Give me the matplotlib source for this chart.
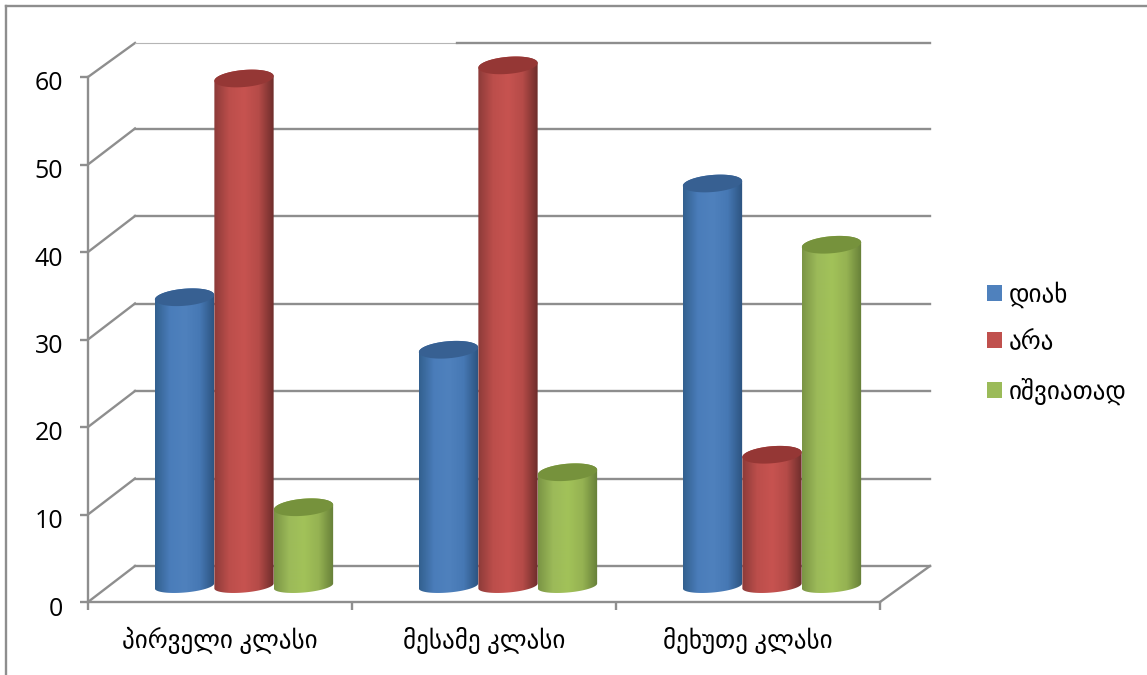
import matplotlib.pyplot as plt
import numpy as np
from matplotlib.colors import LinearSegmentedColormap
from matplotlib.lines import Line2D
from matplotlib.patches import Patch, Polygon
from matplotlib.transforms import ScaledTranslation

plt.rcParams['font.family'] = ['Open Sans', 'DejaVu Sans']

# Dados
klasebi = ['პირველი კლასი', 'მესამე კლასი', 'მეხუთე კლასი']
seriebi = ['დიახ', 'არა', 'იშვიათად']
diakh = [33, 27, 46]
ara = [58, 59.5, 15]
ishviatad = [9, 13, 39]
yticks = [0, 10, 20, 30, 40, 50, 60]

# side dark, centre, other side dark, then top cap and legend colour
ferebi = [
    (['#33608f', '#4a7dba', '#4f81bd', '#4678b4', '#2c537f'], '#376092', '#4f81bd'),
    (['#8d3b39', '#bc4e4b', '#c75350', '#b54b48', '#6e2d2b'], '#953735', '#c0504d'),
    (['#7b9545', '#9cba59', '#a2c259', '#95b252', '#667f38'], '#76923c', '#9bbb59'),
]

W, H = 1147, 675
AX_L, AX_R, AX_T, AX_B = 88, 880, 77, 602
fig = plt.figure(figsize=(W / 100, H / 100), dpi=100)
ax = fig.add_axes([AX_L / W, 1 - AX_B / H, (AX_R - AX_L) / W, (AX_B - AX_T) / H])

px_x = (AX_R - AX_L) / len(klasebi)  # pixels per category
px_y = (AX_B - AX_T) / 60  # pixels per unit
gris = '#8e8e8e'

# depth of the fake 3D box, in data units
dx = 47 / px_x
dy = 36 / px_y
dy_topo = 34 / px_y  # top line sits a bit lower in the picture

# walls and floor
for v in yticks:
    d = dy_topo if v == 60 else dy
    ax.plot([0, dx], [v, v + d], color=gris, lw=1.7, zorder=1, clip_on=False)
    if v < 60:
        ax.plot([dx, 3 + 50 / px_x], [v + d, v + d], color=gris, lw=1.7, zorder=1, clip_on=False)
# top line is thin and pale on the left part
ax.plot([dx, 369 / px_x], [60 + dy_topo, 60 + dy_topo], color='#b5b5b5', lw=0.8, zorder=1, clip_on=False)
ax.plot([369 / px_x, 3 + 50 / px_x], [60 + dy_topo, 60 + dy_topo], color=gris, lw=1.7, zorder=1, clip_on=False)
ax.plot([3, 3 + 50 / px_x], [0, dy], color=gris, lw=1.7, zorder=1, clip_on=False)


def elipse(cx, base, a, b, t):
    # tilted ellipse, computed in pixels and returned in data units
    tilt = np.radians(5)
    ex = a * np.cos(t) * np.cos(tilt) - b * np.sin(t) * np.sin(tilt)
    ey = a * np.cos(t) * np.sin(tilt) + b * np.sin(t) * np.cos(tilt)
    return np.column_stack([cx + ex / px_x, base + ey / px_y])


# cylinders
largura = 59.5 / px_x
desl_x = 24 / px_x
base = 16 / px_y
z = 3
for i in range(len(klasebi)):
    for j, valores in enumerate([diakh, ara, ishviatad]):
        cx = i + 0.5 + desl_x + (j - 1) * largura
        topo = base + valores[i]
        cores, tampa, _ = ferebi[j]
        a = 59.5 / 2
        baixo = elipse(cx, base, a, 6.5, np.linspace(np.pi, 2 * np.pi, 40))
        cima = elipse(cx, topo, a, 8.5, np.linspace(0, np.pi, 40))
        corpo = Polygon(np.vstack([baixo, cima]), closed=True, transform=ax.transData,
                        facecolor='none', edgecolor='none')
        cmap = LinearSegmentedColormap.from_list('c', cores)
        gradiente = np.linspace(0, 1, 120).reshape(1, -1)
        im = ax.imshow(gradiente, cmap=cmap, aspect='auto', zorder=z, interpolation='bilinear',
                       extent=[cx - largura / 2, cx + largura / 2, 0, topo + 2])
        ax.add_patch(corpo)
        im.set_clip_box(fig.bbox)
        im.set_clip_path(corpo)
        cap = elipse(cx, topo, a, 8.5, np.linspace(0, 2 * np.pi, 80))
        ax.add_patch(Polygon(cap, closed=True, facecolor=tampa, edgecolor='none', zorder=z + 1, clip_on=False))
        z += 2

ax.set_xlim(0, 3)
ax.set_ylim(0, 60)
ax.patch.set_alpha(0)

for lado in ['top', 'right']:
    ax.spines[lado].set_visible(False)
for lado in ['left', 'bottom']:
    ax.spines[lado].set_color(gris)
    ax.spines[lado].set_linewidth(1.7)

ax.set_yticks(yticks)
ax.tick_params(axis='y', length=6, width=1.7, color=gris, labelsize=18, pad=12, labelcolor='black')
desce = ScaledTranslation(0, -4 / 100, fig.dpi_scale_trans)
for rot in ax.get_yticklabels():
    rot.set_transform(rot.get_transform() + desce)
ax.set_xticks([0, 1, 2, 3])
ax.set_xticklabels([])
ax.set_xticks([0.5, 1.5, 2.5], minor=True)
ax.set_xticklabels(klasebi, minor=True, fontsize=18)
ax.tick_params(axis='x', which='major', length=6, width=1.7, color=gris)
ax.tick_params(axis='x', which='minor', length=0, pad=18)

# legend
handles = [Patch(facecolor=c[2], edgecolor='none') for c in ferebi]
fig.legend(handles, seriebi, loc='center left', bbox_to_anchor=(987 / W, 1 - 343 / H), frameon=False,
           fontsize=18, handlelength=0.6, handleheight=0.6, handletextpad=0.26,
           labelspacing=0.9, borderpad=0, borderaxespad=0)

# outer frame, only top and left are in the picture
fig.add_artist(Line2D([6 / W, 6 / W], [0, 1 - 6 / H], color=gris, lw=1.7))
fig.add_artist(Line2D([6 / W, 1], [1 - 6 / H, 1 - 6 / H], color=gris, lw=1.7))

fig.savefig('out.png', dpi=100)
